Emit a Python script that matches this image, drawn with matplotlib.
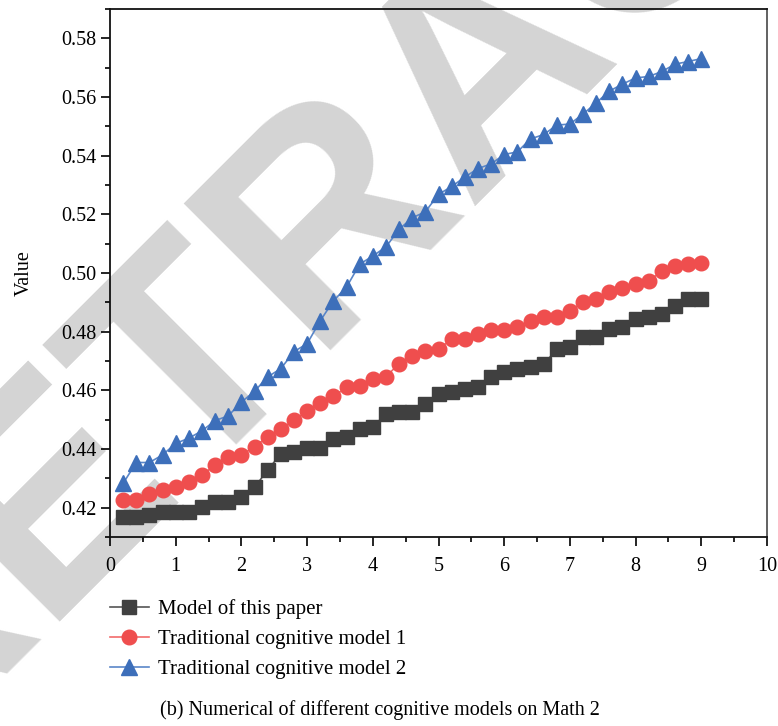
import matplotlib.pyplot as plt
import numpy as np

# x positions of the samples
x = [0.2, 0.4, 0.6, 0.8, 1.0, 1.2, 1.4, 1.6, 1.8, 2.0,
     2.2, 2.4, 2.6, 2.8, 3.0, 3.2, 3.4, 3.6, 3.8, 4.0,
     4.2, 4.4, 4.6, 4.8, 5.0, 5.2, 5.4, 5.6, 5.8, 6.0,
     6.2, 6.4, 6.6, 6.8, 7.0, 7.2, 7.4, 7.6, 7.8, 8.0,
     8.2, 8.4, 8.6, 8.8, 9.0]

model_paper = [0.4167, 0.4167, 0.4176, 0.4184, 0.4184, 0.4184, 0.4201, 0.4218, 0.4218, 0.4235,
               0.4269, 0.4329, 0.4383, 0.4391, 0.4405, 0.4405, 0.4433, 0.4442, 0.4468, 0.4476,
               0.4519, 0.4527, 0.4527, 0.4553, 0.4587, 0.4595, 0.4604, 0.4612, 0.4647, 0.4664,
               0.4672, 0.4681, 0.4689, 0.4740, 0.4749, 0.4783, 0.4783, 0.4808, 0.4817, 0.4843,
               0.4851, 0.4860, 0.4887, 0.4911, 0.4911]

trad_model1 = [0.4227, 0.4227, 0.4245, 0.4262, 0.4269, 0.4287, 0.4311, 0.4346, 0.4372, 0.4380,
               0.4408, 0.4442, 0.4467, 0.4499, 0.4528, 0.4558, 0.4580, 0.4610, 0.4615, 0.4638,
               0.4647, 0.4691, 0.4717, 0.4734, 0.4742, 0.4774, 0.4776, 0.4793, 0.4805, 0.4806,
               0.4817, 0.4837, 0.4850, 0.4850, 0.4870, 0.4902, 0.4913, 0.4934, 0.4948, 0.4964,
               0.4973, 0.5007, 0.5024, 0.5030, 0.5033]

trad_model2 = [0.4283, 0.4354, 0.4354, 0.4380, 0.4419, 0.4437, 0.4462, 0.4497, 0.4513, 0.4560,
               0.4597, 0.4646, 0.4674, 0.4732, 0.4759, 0.4837, 0.4905, 0.4952, 0.5030, 0.5058,
               0.5089, 0.5149, 0.5188, 0.5209, 0.5268, 0.5295, 0.5327, 0.5356, 0.5372, 0.5404,
               0.5413, 0.5457, 0.5472, 0.5504, 0.5508, 0.5542, 0.5580, 0.5620, 0.5644, 0.5665,
               0.5670, 0.5687, 0.5712, 0.5721, 0.5731]

labels = ['Model of this paper', 'Traditional cognitive model 1', 'Traditional cognitive model 2']
caption = '(b) Numerical of different cognitive models on Math 2'

plt.rcParams['font.family'] = ['Liberation Serif', 'DejaVu Serif']

fig = plt.figure(figsize=(7.78, 7.26), dpi=100)

# retraction watermark, sits behind the axes
fig.text(0.6967, 0.8347, 'RETRACTED', fontsize=216, color='#d4d4d4', rotation=45,
         rotation_mode='anchor', ha='center', va='baseline',
         family='Liberation Sans', fontweight='bold', zorder=-5)

ax = fig.add_axes([0.1414, 0.2603, 0.8445, 0.7273])
ax.patch.set_alpha(0)

ax.plot(x, model_paper, color='#555555', lw=1.2, marker='s', ms=9.5,
        mfc='#404040', mec='#404040', label=labels[0])
ax.plot(x, trad_model1, color='#f26b6b', lw=1.2, marker='o', ms=10.5,
        mfc='#ef4e4e', mec='#ef4e4e', label=labels[1])
ax.plot(x, trad_model2, color='#5a86c8', lw=1.2, marker='^', ms=11,
        mfc='#3d6fba', mec='#3d6fba', label=labels[2])

ax.set_xlim(0, 10)
ax.set_ylim(0.41, 0.59)
ax.set_xticks(np.arange(0, 11, 1))
ax.set_xticks(np.arange(0, 10.01, 0.5), minor=True)
ax.set_yticks(np.arange(0.42, 0.5801, 0.02))
ax.set_yticks(np.arange(0.41, 0.5901, 0.01), minor=True)
ax.set_yticklabels(['%.2f' % v for v in np.arange(0.42, 0.5801, 0.02)])
ax.tick_params(axis='both', which='major', direction='out', length=6.5, width=1.2,
               labelsize=14.5, top=False, right=False)
ax.tick_params(axis='both', which='minor', direction='out', length=3.5, width=1.2,
               top=False, right=False)
ax.tick_params(axis='x', which='major', pad=8)
ax.tick_params(axis='y', which='major', pad=3)
for s in ['left', 'bottom', 'top']:
    ax.spines[s].set_linewidth(1.3)
    ax.spines[s].set_color('#111111')
ax.spines['right'].set_linewidth(1.3)
ax.spines['right'].set_color('#555555')

ax.set_ylabel('Value', fontsize=14.5, labelpad=20)

fig.legend(loc='upper left', bbox_to_anchor=(0.1414, 0.175), frameon=False,
           fontsize=15, handlelength=1.85, labelspacing=0.5, handletextpad=0.45,
           borderpad=0, borderaxespad=0)

fig.text(0.488, 0.022, caption, fontsize=14.5, ha='center', va='center')

fig.savefig('out.png', dpi=100)
